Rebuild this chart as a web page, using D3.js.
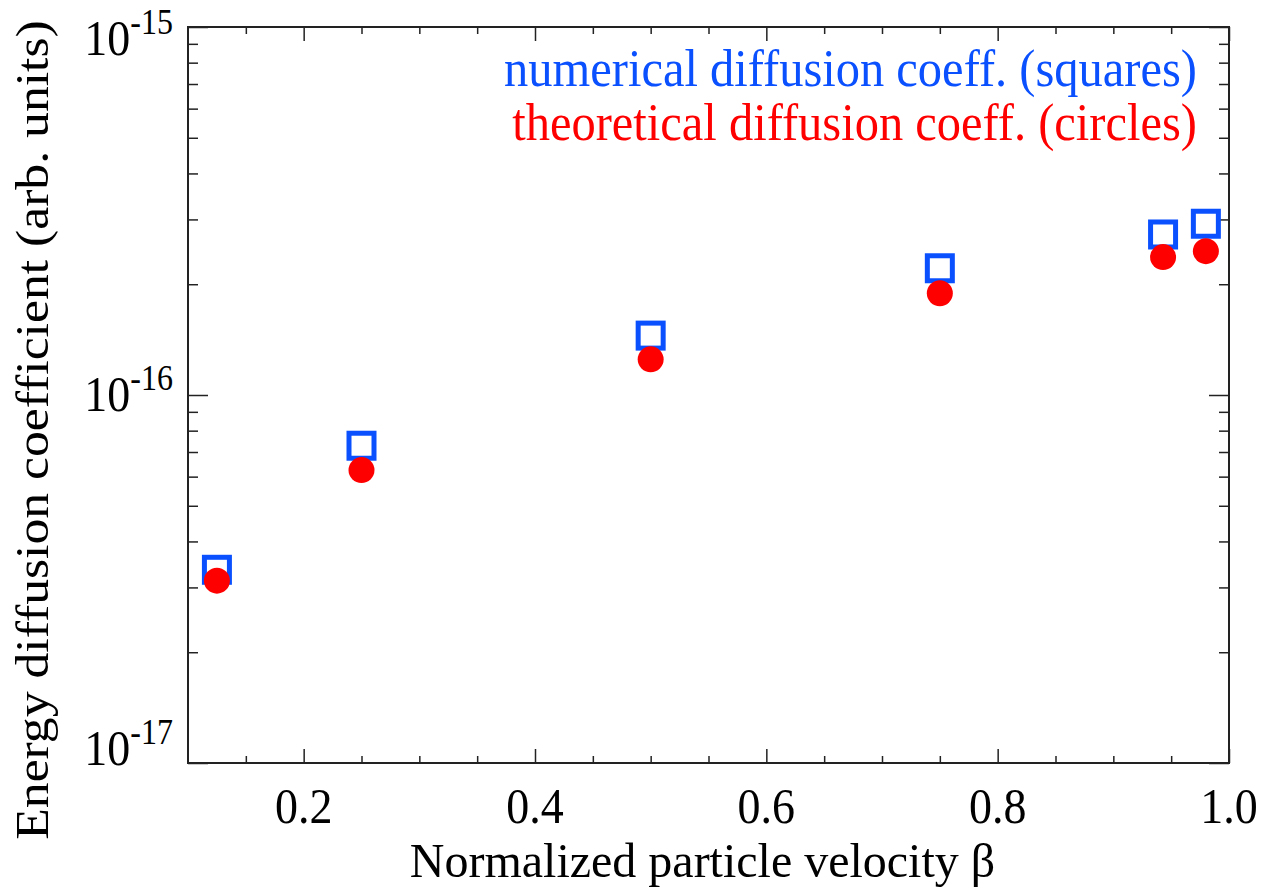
<!DOCTYPE html>
<html>
<head>
<meta charset="utf-8">
<script src="https://cdn.jsdelivr.net/npm/d3@7"></script>
<style>
  body { margin: 0; background: #fff; }
  text { font-family: "Liberation Serif", "Times New Roman", serif; }
</style>
</head>
<body>
<svg id="chart"></svg>
<script>
var width = 1273;
var height = 890;

// data
var beta = [0.125, 0.25, 0.5, 0.75, 0.943, 0.98];
var numerical = [3.35e-17, 7.28e-17, 1.45e-16, 2.21e-16, 2.73e-16, 2.92e-16];
var theoretical = [3.13e-17, 6.25e-17, 1.25e-16, 1.89e-16, 2.37e-16, 2.46e-16];

var xMajor = [0.2, 0.4, 0.6, 0.8, 1.0];
var xLabels = ["0.2", "0.4", "0.6", "0.8", "1.0"];
var yDecades = [1e-17, 1e-16, 1e-15];
var yExponents = ["-17", "-16", "-15"];

var legendText = ["numerical diffusion coeff. (squares)", "theoretical diffusion coeff. (circles)"];
var legendColors = ["#0a50ff", "#ff0000"];

var margin = {top: 27, right: 44, bottom: 127, left: 188};
var pw = width - margin.left - margin.right,
    ph = height - margin.top - margin.bottom;
var stretch = 1.1; // the original text is a bit taller than plain Times

var x = d3.scaleLinear().domain([0.1, 1.0]).range([0, pw]);
var y = d3.scaleLog().domain([1e-17, 1e-15]).range([ph, 0]);

var svg = d3.select("#chart").attr("width", width).attr("height", height);
var g = svg.append("g").attr("transform", "translate(" + margin.left + "," + margin.top + ")");

var xMinor = d3.range(0.15, 1.0, 0.05).filter(function(v) {
    return xMajor.every(function(m) { return Math.abs(m - v) > 1e-6; });
});
var yMinor = [];
yDecades.slice(0, 2).forEach(function(d) {
    for (var k = 2; k <= 9; k++) yMinor.push(d * k);
});

function tickStyle(sel) {
    sel.select(".domain").remove();
    sel.selectAll("line").attr("stroke", "#222").attr("stroke-width", 1.5);
    sel.selectAll("text").remove();
}

function at(px, py, k) {
    return "translate(" + px + "," + py + ") scale(1," + (k || stretch) + ")";
}

// x ticks, bottom and top (inward)
g.append("g").attr("transform", "translate(0," + ph + ")")
    .call(d3.axisBottom(x).tickValues(xMajor).tickSize(-14)).call(tickStyle);
g.append("g").attr("transform", "translate(0," + ph + ")")
    .call(d3.axisBottom(x).tickValues(xMinor).tickSize(-7)).call(tickStyle);
g.append("g")
    .call(d3.axisTop(x).tickValues(xMajor).tickSize(-14)).call(tickStyle);
g.append("g")
    .call(d3.axisTop(x).tickValues(xMinor).tickSize(-7)).call(tickStyle);

// y ticks, left and right (inward)
g.append("g")
    .call(d3.axisLeft(y).tickValues(yDecades).tickSize(-20)).call(tickStyle);
g.append("g")
    .call(d3.axisLeft(y).tickValues(yMinor).tickSize(-10)).call(tickStyle);
g.append("g").attr("transform", "translate(" + pw + ",0)")
    .call(d3.axisRight(y).tickValues(yDecades).tickSize(-20)).call(tickStyle);
g.append("g").attr("transform", "translate(" + pw + ",0)")
    .call(d3.axisRight(y).tickValues(yMinor).tickSize(-10)).call(tickStyle);

// frame
g.append("rect")
    .attr("width", pw).attr("height", ph)
    .attr("fill", "none").attr("stroke", "#222").attr("stroke-width", 2);

// x tick labels
g.selectAll(".xlab").data(xMajor).enter().append("text")
    .attr("class", "xlab")
    .attr("transform", function(d) { return at(x(d), ph + 60); })
    .attr("text-anchor", "middle")
    .attr("font-size", 46)
    .text(function(d, i) { return xLabels[i]; });

// y tick labels with superscript exponent
var yOff = [2, 16, 28];
var ylab = g.selectAll(".ylab").data(yDecades).enter().append("text")
    .attr("class", "ylab")
    .attr("transform", function(d, i) { return at(-15, y(d) + yOff[i]); })
    .attr("text-anchor", "end")
    .attr("font-size", 46);
ylab.append("tspan").text("10");
ylab.append("tspan")
    .attr("font-size", 32)
    .attr("dy", -19)
    .text(function(d, i) { return yExponents[i]; });

// axis titles
svg.append("text")
    .attr("transform", at(margin.left + pw / 2 - 6, 877, 1.02))
    .attr("text-anchor", "middle")
    .attr("font-size", 48)
    .text("Normalized particle velocity \u03b2");

svg.append("text")
    .attr("transform", "translate(48," + 430 + ") rotate(-90) scale(" + stretch + ",1)")
    .attr("text-anchor", "middle")
    .attr("font-size", 47)
    .text("Energy diffusion coefficient (arb. units)");

// squares (numerical)
var side = 25;
g.selectAll(".sq").data(beta).enter().append("rect")
    .attr("class", "sq")
    .attr("x", function(d) { return x(d) - side / 2; })
    .attr("y", function(d, i) { return y(numerical[i]) - side / 2; })
    .attr("width", side).attr("height", side)
    .attr("fill", "none")
    .attr("stroke", legendColors[0])
    .attr("stroke-width", 5);

// circles (theoretical)
g.selectAll(".circ").data(beta).enter().append("circle")
    .attr("class", "circ")
    .attr("cx", function(d) { return x(d); })
    .attr("cy", function(d, i) { return y(theoretical[i]); })
    .attr("r", 13)
    .attr("fill", legendColors[1]);

// legend
svg.selectAll(".leg").data(legendText).enter().append("text")
    .attr("class", "leg")
    .attr("transform", function(d, i) { return at(1197, 86 + i * 54); })
    .attr("text-anchor", "end")
    .attr("font-size", 48.5)
    .attr("fill", function(d, i) { return legendColors[i]; })
    .text(function(d) { return d; });
</script>
</body>
</html>
